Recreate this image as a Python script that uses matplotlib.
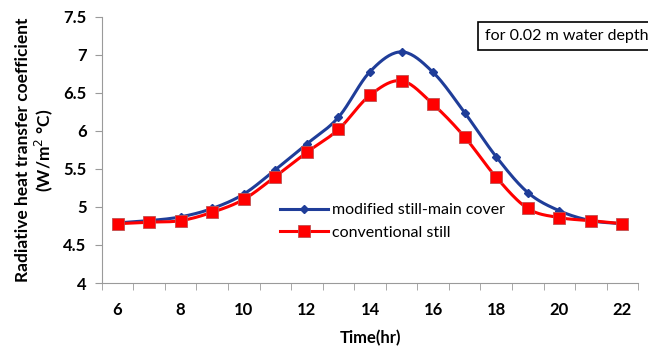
import numpy as np
import matplotlib.pyplot as plt

hours = [6, 7, 8, 9, 10, 11, 12, 13, 14, 15, 16, 17, 18, 19, 20, 21, 22]
modified = [4.79, 4.82, 4.87, 4.98, 5.17, 5.49, 5.83, 6.18, 6.78, 7.04, 6.77, 6.24, 5.66, 5.19, 4.95, 4.82, 4.78]
conventional = [4.78, 4.80, 4.82, 4.93, 5.10, 5.40, 5.72, 6.02, 6.47, 6.66, 6.35, 5.92, 5.39, 4.98, 4.86, 4.82, 4.78]


def smooth(x, y, n=20):
    # Catmull-Rom curve through the points, like Excel's smoothed line
    x = np.asarray(x, float)
    y = np.asarray(y, float)
    px = np.concatenate([[2 * x[0] - x[1]], x, [2 * x[-1] - x[-2]]])
    py = np.concatenate([[2 * y[0] - y[1]], y, [2 * y[-1] - y[-2]]])
    t = np.linspace(0, 1, n, endpoint=False)
    xs, ys = [], []
    for i in range(1, len(px) - 2):
        for p, out in ((px, xs), (py, ys)):
            p0, p1, p2, p3 = p[i - 1], p[i], p[i + 1], p[i + 2]
            out.extend(0.5 * (2 * p1 + (-p0 + p2) * t
                              + (2 * p0 - 5 * p1 + 4 * p2 - p3) * t ** 2
                              + (-p0 + 3 * p1 - 3 * p2 + p3) * t ** 3))
    xs.append(x[-1])
    ys.append(y[-1])
    return xs, ys


plt.rcParams['font.family'] = ['Lato', 'DejaVu Sans']

fig = plt.figure(figsize=(6.48, 3.52), dpi=100)
ax = fig.add_axes([0.157, 0.196, 0.828, 0.756])

blue = '#1f3d99'
red = '#ff0000'

sx, sy = smooth(hours, modified)
ax.plot(sx, sy, color=blue, lw=2.2, zorder=2)
ax.plot(hours, modified, ls='none', marker='D', ms=4.5, color=blue, zorder=3)
sx, sy = smooth(hours, conventional)
ax.plot(sx, sy, color=red, lw=2.2, zorder=2)
ax.plot(hours, conventional, ls='none', marker='s', ms=8, color=red,
        markeredgecolor='#c05050', markeredgewidth=0.6, zorder=3)

# legend handles
ax.plot([], [], color=blue, lw=2.2, marker='D', ms=4.5, label='modified still-main cover')
ax.plot([], [], color=red, lw=2.2, marker='s', ms=8, markeredgecolor='#c05050',
        markeredgewidth=0.6, label='conventional still')
ax.legend(loc='upper left', bbox_to_anchor=(0.305, 0.355), frameon=False,
          fontsize=11.5, handlelength=3.0, handletextpad=0.3, labelspacing=0.55)

ax.set_xlim(5.5, 22.5)
ax.set_ylim(4, 7.5)
ax.set_xticks(hours[::2])
ax.set_xticks(np.arange(5.5, 23, 1), minor=True)
ax.tick_params(axis='x', which='major', length=0, pad=14)
ax.tick_params(axis='x', which='minor', length=5, color='#9a9a9a', direction='out')
ax.set_yticks(np.arange(4, 7.51, 0.5))
ax.set_yticklabels(['4', '4.5', '5', '5.5', '6', '6.5', '7', '7.5'])
ax.tick_params(axis='y', length=5, color='#9a9a9a', pad=6)
for lab in ax.get_xticklabels() + ax.get_yticklabels():
    lab.set_fontsize(12)
    lab.set_fontweight('bold')

for s in ['top', 'right']:
    ax.spines[s].set_visible(False)
for s in ['left', 'bottom']:
    ax.spines[s].set_color('#9a9a9a')

ax.set_xlabel('Time(hr)', fontsize=12, fontweight='bold', labelpad=8)
ax.set_ylabel('Radiative heat transfer coefficient\n(W/m$^2$ °C)', fontsize=12.5,
              fontweight='bold', labelpad=6, linespacing=1.1)

fig.text(0.875, 0.898, 'for 0.02 m water depth', fontsize=11.5, ha='center', va='center',
         bbox=dict(boxstyle='square,pad=0.45', fc='white', ec='black', lw=1.2))

fig.savefig('out.png', dpi=100)
